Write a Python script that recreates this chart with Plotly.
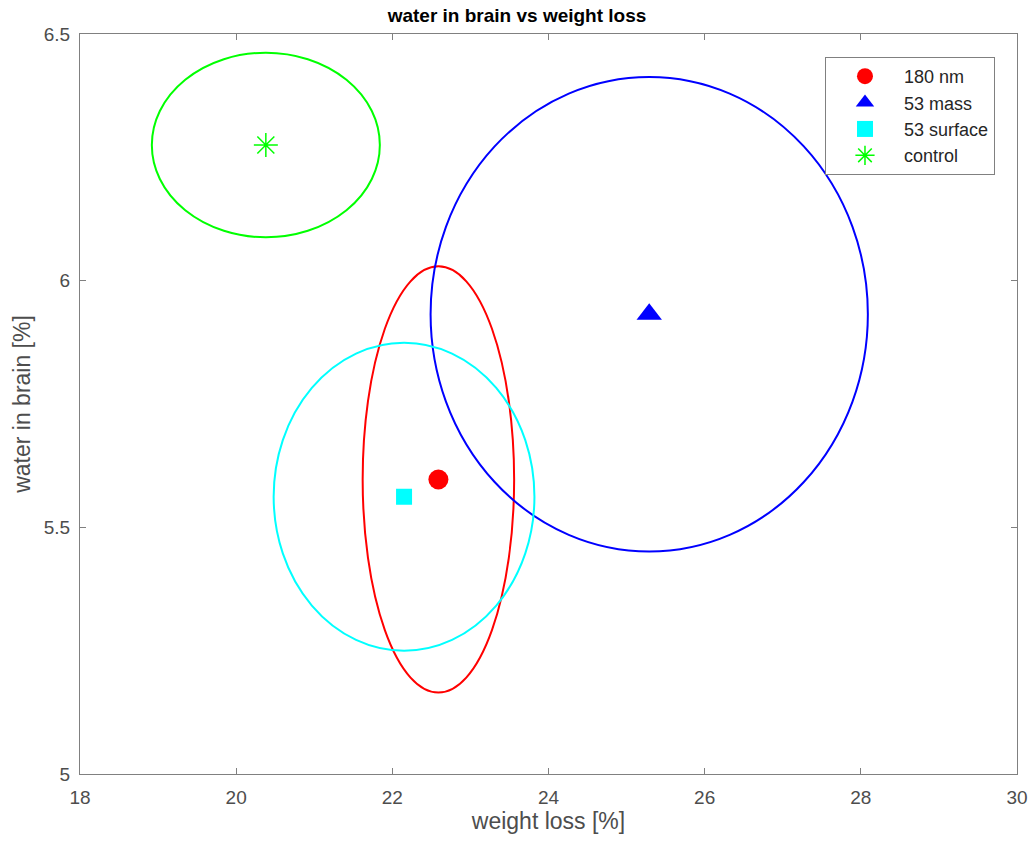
import plotly.graph_objects as go

names = ["180 nm", "53 mass", "53 surface", "control"]
x_mean = [22.59, 25.29, 22.15, 20.38]
y_mean = [5.597, 5.932, 5.562, 6.275]
x_rad = [0.97, 2.8, 1.67, 1.46]
y_rad = [0.432, 0.481, 0.312, 0.187]
colors = ["#ff0000", "#0000ff", "#00ffff", "#00ff00"]
symbols = ["circle", "triangle-up", "square", "asterisk-open"]
sizes = [20, 22, 16, 20]

x_ticks = [18, 20, 22, 24, 26, 28, 30]
y_ticks = [5, 5.5, 6, 6.5]
y_ticklabels = ["5", "5.5", "6", "6.5"]

fig = go.Figure()
shapes = []
for i in range(len(names)):
    shapes.append(dict(type="circle", xref="x", yref="y",
                       x0=x_mean[i] - x_rad[i], x1=x_mean[i] + x_rad[i],
                       y0=y_mean[i] - y_rad[i], y1=y_mean[i] + y_rad[i],
                       line=dict(color=colors[i], width=2), layer="above"))
    fig.add_trace(go.Scatter(
        x=[x_mean[i]], y=[y_mean[i]], mode="markers", name=names[i],
        legendgroup=names[i],
        marker=dict(symbol=symbols[i], size=sizes[i], color=colors[i],
                    line=dict(color=colors[i], width=1.5 if symbols[i] == "asterisk-open" else 0))))

axis_common = dict(showgrid=False, zeroline=False, showline=True, mirror="ticks",
                   linecolor="#808080", linewidth=1, ticks="inside", ticklen=6,
                   automargin=False,
                   tickcolor="#808080", tickfont=dict(size=19, color="#4d4d4d"))

fig.update_layout(
    width=1034, height=846,
    margin=dict(l=80, r=17, t=34, b=72),
    plot_bgcolor="white", paper_bgcolor="white",
    font=dict(family="Liberation Sans, Arial, sans-serif", color="#262626"),
    shapes=shapes,
    title=dict(text="<b>water in brain vs weight loss</b>", x=0.5, xanchor="center",
               y=0.982, yanchor="middle", font=dict(size=19, color="#000000")),
    xaxis=dict(range=[18, 30], tickvals=x_ticks, ticktext=[str(v) for v in x_ticks],
               ticklabelstandoff=6,
               title=dict(text="weight loss [%]", font=dict(size=23, color="#4d4d4d"), standoff=4),
               **axis_common),
    yaxis=dict(range=[5, 6.5], tickvals=y_ticks, ticktext=y_ticklabels,
               ticklabelstandoff=5,
               title=dict(text="water in brain [%]", font=dict(size=23, color="#4d4d4d"), standoff=6),
               **axis_common),
    legend=dict(x=0.9765, y=0.969, xanchor="right", yanchor="top",
                bordercolor="#808080", borderwidth=1, bgcolor="white",
                font=dict(size=18, color="#262626"), itemwidth=68,
                tracegroupgap=0),
    showlegend=True,
)

fig.write_html("out.html")
